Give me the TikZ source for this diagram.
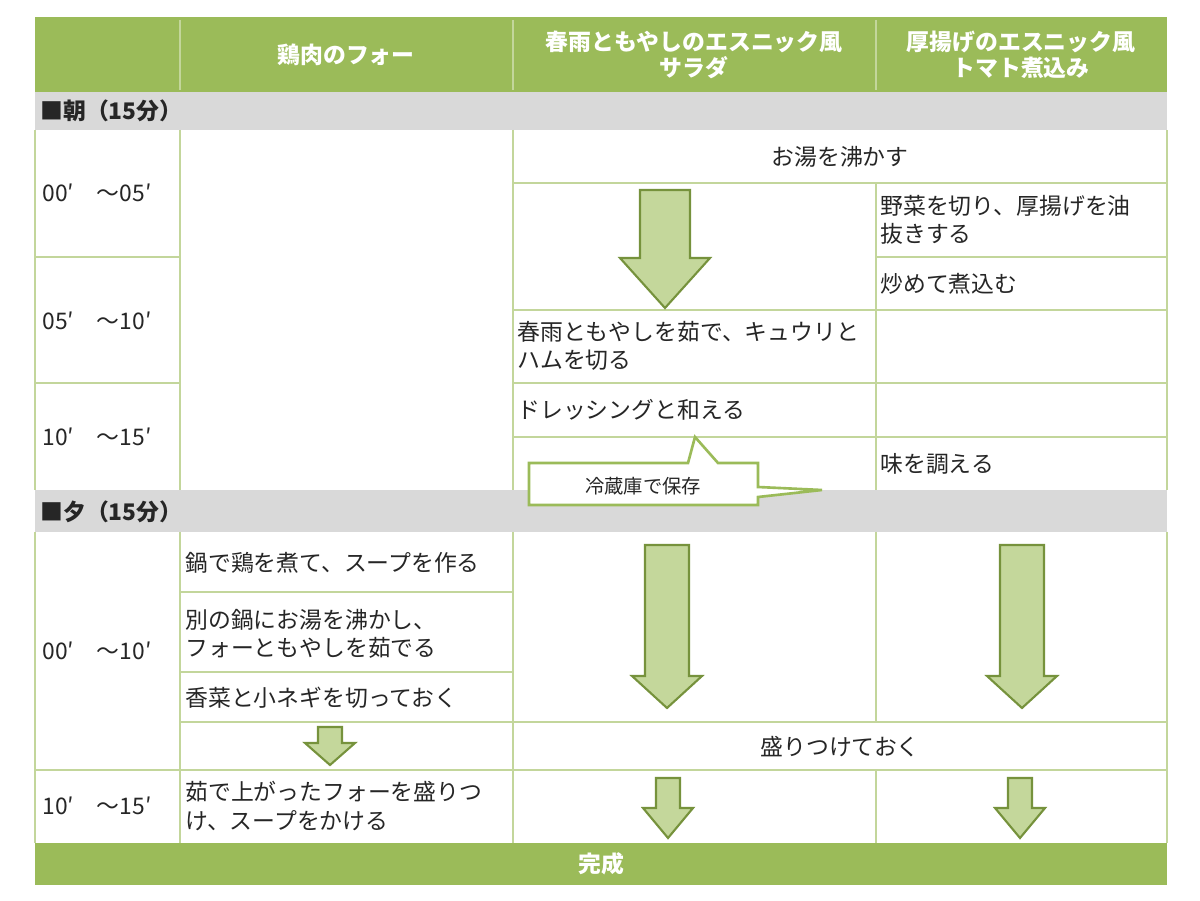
\documentclass[tikz,border=0pt]{standalone}
\usepackage{fontspec}
\setmainfont{Noto Sans CJK JP}
\definecolor{hdgreen}{RGB}{155,187,89}
\definecolor{lngreen}{RGB}{195,214,155}
\definecolor{argreen}{RGB}{196,215,155}
\definecolor{ardark}{RGB}{118,146,60}
\definecolor{band}{RGB}{217,217,217}
\tikzset{
  cell/.style = {anchor = west, align = left, font = \fontsize{13}{16}\selectfont, text = black!85, inner sep = 0pt},
  head/.style = {align = center, font = \fontsize{13}{15}\selectfont\bfseries, text = white, inner sep = 0pt},
  grid line/.style = {draw = lngreen, line width = 0.8pt},
  flow/.style = {fill = argreen, draw = ardark, line width = 1.2pt, line join = miter}
}
% arrow: centre x, top, bottom, shaft half width, head half width, head length
\newcommand{\flowarrow}[6]{%
  \draw[flow] (#1-#4, #2) -- (#1+#4, #2) -- (#1+#4, #3-#6) -- (#1+#5, #3-#6) -- (#1, #3)
    -- (#1-#5, #3-#6) -- (#1-#4, #3-#6) -- cycle;}
\begin{document}
\begin{tikzpicture}[x = 0.02cm, y = -0.02cm]
	\useasboundingbox (0, 0) rectangle (1200, 901);
	\fill[white] (0, 0) rectangle (1200, 901);
	
	\fill[hdgreen] (35, 17) rectangle (1167, 92);
	\fill[band] (35, 92) rectangle (1167, 130);
	\fill[band] (35, 490) rectangle (1167, 532);
	\fill[hdgreen] (35, 843) rectangle (1167, 885);
	
	% header
	\draw[lngreen, line width = 0.8pt] (180, 20) -- (180, 90);
	\draw[lngreen, line width = 0.8pt] (513, 20) -- (513, 90);
	\draw[lngreen, line width = 0.8pt] (876, 20) -- (876, 90);
	\node[head] (h1) at (346, 55) {鶏肉のフォー};
	\node[head] (h2) at (694, 55) {春雨ともやしのエスニック風\\サラダ};
	\node[head] (h3) at (1021, 55) {厚揚げのエスニック風\\トマト煮込み};
	
	% morning
	\node[cell, font = \fontsize{13}{15}\selectfont\bfseries] (m) at (40, 111) {■朝（15分）};
	\draw[grid line] (35, 130) -- (35, 490);
	\draw[grid line] (180, 130) -- (180, 490);
	\draw[grid line] (513, 130) -- (513, 490);
	\draw[grid line] (876, 183) -- (876, 490);
	\draw[grid line] (1167, 130) -- (1167, 490);
	\draw[grid line] (513, 183) -- (1167, 183);
	\draw[grid line] (876, 257) -- (1167, 257);
	\draw[grid line] (513, 310) -- (1167, 310);
	\draw[grid line] (513, 383) -- (1167, 383);
	\draw[grid line] (513, 437) -- (1167, 437);
	\draw[grid line] (35, 257) -- (180, 257);
	\draw[grid line] (35, 383) -- (180, 383);
	
	\node[cell] (t1) at (42, 193) {00′\quad～05′};
	\node[cell] (t2) at (42, 321) {05′\quad～10′};
	\node[cell] (t3) at (42, 437) {10′\quad～15′};
	
	\node[cell, anchor = center] (c1) at (840, 157) {お湯を沸かす};
	\node[cell] (c2) at (880, 220) {野菜を切り、厚揚げを油\\抜きする};
	\node[cell] (c3) at (880, 284) {炒めて煮込む};
	\node[cell] (c4) at (517, 346) {春雨ともやしを茹で、キュウリと\\ハムを切る};
	\node[cell] (c5) at (517, 410) {ドレッシングと和える};
	\node[cell] (c6) at (880, 464) {味を調える};
	\flowarrow{665}{190}{308}{25}{45}{50}
	
	% evening
	\node[cell, font = \fontsize{13}{15}\selectfont\bfseries] (e) at (40, 512) {■夕（15分）};
	\draw[grid line] (35, 532) -- (35, 843);
	\draw[grid line] (180, 532) -- (180, 843);
	\draw[grid line] (513, 532) -- (513, 843);
	\draw[grid line] (876, 532) -- (876, 722);
	\draw[grid line] (876, 770) -- (876, 843);
	\draw[grid line] (1167, 532) -- (1167, 843);
	\draw[grid line] (180, 592) -- (513, 592);
	\draw[grid line] (180, 672) -- (513, 672);
	\draw[grid line] (180, 722) -- (1167, 722);
	\draw[grid line] (35, 770) -- (1167, 770);
	
	\node[cell] (t4) at (42, 651) {00′\quad～10′};
	\node[cell] (t5) at (42, 806) {10′\quad～15′};
	
	\node[cell] (d1) at (185, 563) {鍋で鶏を煮て、スープを作る};
	\node[cell] (d2) at (185, 634) {別の鍋にお湯を沸かし、\\フォーともやしを茹でる};
	\node[cell] (d3) at (185, 698) {香菜と小ネギを切っておく};
	\node[cell, anchor = center] (d4) at (840, 747) {盛りつけておく};
	\node[cell] (d5) at (185, 806) {茹で上がったフォーを盛りつ\\け、スープをかける};
	\flowarrow{667}{545}{708}{22}{35}{32}
	\flowarrow{1022}{545}{708}{22}{35}{32}
	\flowarrow{330}{727}{765}{12}{25}{22}
	\flowarrow{668}{778}{838}{12}{25}{30}
	\flowarrow{1020}{778}{838}{12}{25}{30}
	
	\node[head] (done) at (601, 864) {完成};
	
	% callout
	\draw[fill = white, draw = hdgreen, line width = 1.5pt, line join = miter]
		(529, 463) -- (688, 463) -- (695, 437) -- (718, 463) -- (758, 463) -- (758, 487)
		-- (822, 490) -- (758, 497) -- (758, 505) -- (529, 505) -- cycle;
	\node[cell, anchor = center, font = \fontsize{11}{13}\selectfont] (keep) at (643, 486) {冷蔵庫で保存};
\end{tikzpicture}
\end{document}
